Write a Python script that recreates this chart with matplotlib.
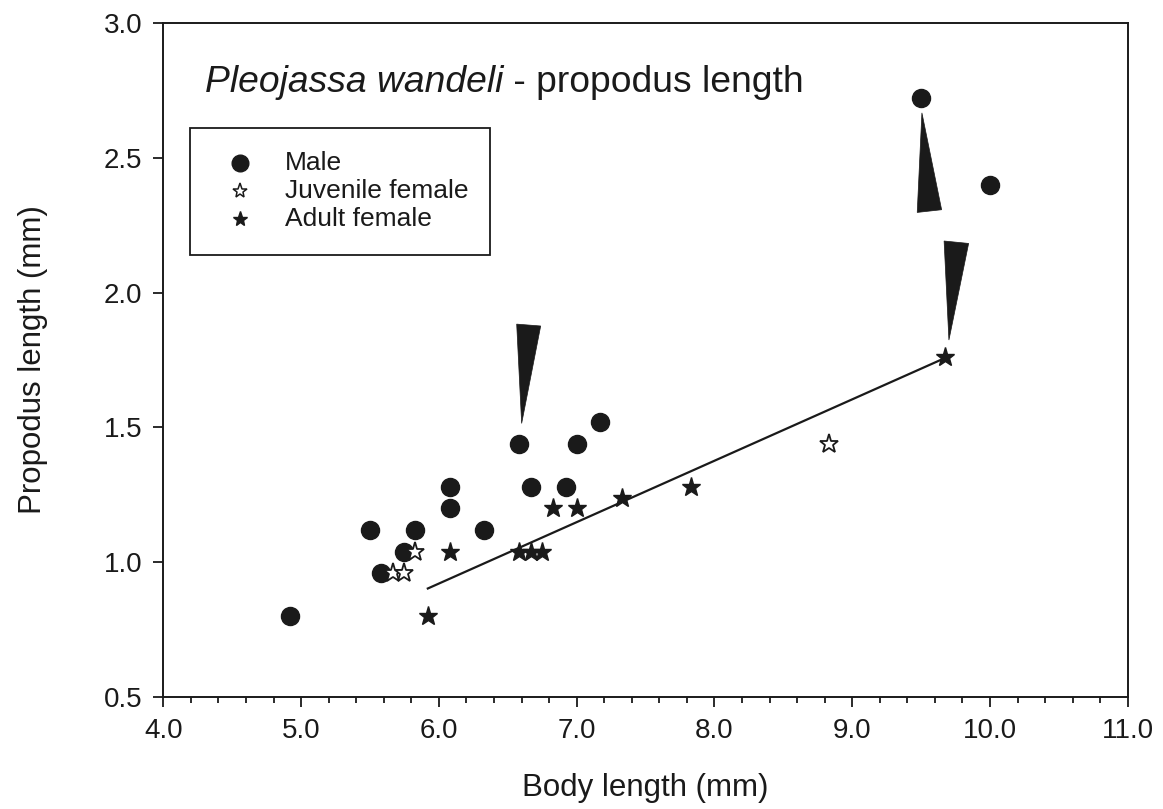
import numpy as np
import matplotlib
matplotlib.use("Agg")
import matplotlib.pyplot as plt
from matplotlib.patches import Polygon, Rectangle
from matplotlib.ticker import MultipleLocator

plt.rcParams["font.family"] = ["Liberation Sans", "DejaVu Sans"]

INK = "#1a1a1a"

# Body length (mm) and propodus length (mm) per group
male_x = [4.92, 5.50, 5.58, 5.75, 5.83, 6.08, 6.08, 6.33, 6.58, 6.67, 6.92, 7.00, 7.17, 9.50, 10.00]
male_y = [0.80, 1.12, 0.96, 1.04, 1.12, 1.28, 1.20, 1.12, 1.44, 1.28, 1.28, 1.44, 1.52, 2.72, 2.40]

juv_x = [5.67, 5.75, 5.83, 8.83]
juv_y = [0.96, 0.96, 1.04, 1.44]

adult_x = [5.92, 6.08, 6.58, 6.67, 6.75, 6.83, 7.00, 7.33, 7.83, 9.67]
adult_y = [0.80, 1.04, 1.04, 1.04, 1.04, 1.20, 1.20, 1.24, 1.28, 1.76]

legend_labels = ["Male", "Juvenile female", "Adult female"]
x_ticks = [4.0, 5.0, 6.0, 7.0, 8.0, 9.0, 10.0, 11.0]
y_ticks = [0.5, 1.0, 1.5, 2.0, 2.5, 3.0]

# Wedge-shaped pointers (data coordinates)
pointers = [
    [(6.565, 1.883), (6.739, 1.876), (6.601, 1.515)],
    [(9.506, 2.666), (9.472, 2.297), (9.649, 2.307)],
    [(9.667, 2.191), (9.845, 2.182), (9.702, 1.824)],
]

fig = plt.figure(figsize=(11.63, 8.09), dpi=100)
ax = fig.add_axes([0.1404, 0.1381, 0.8293, 0.8338])

ax.set_xlim(4.0, 11.0)
ax.set_ylim(0.5, 3.0)

# Regression line for adult females
slope, icpt = np.polyfit(adult_x, adult_y, 1)
fx = np.array([min(adult_x), max(adult_x)])
ax.plot(fx, slope * fx + icpt, color=INK, lw=1.6, zorder=2)

ax.plot(male_x, male_y, "o", ms=13, color=INK, mec=INK, zorder=3)
ax.plot(juv_x, juv_y, "*", ms=14, mfc="white", mec=INK, mew=1.3, zorder=4)
ax.plot(adult_x, adult_y, "*", ms=14, color=INK, mec=INK, zorder=4)

for tri in pointers:
    ax.add_patch(Polygon(tri, closed=True, facecolor=INK, edgecolor=INK, lw=0.5, zorder=3))

# Ticks and spines
ax.set_xticks(x_ticks)
ax.set_xticklabels([f"{v:.1f}" for v in x_ticks])
ax.set_yticks(y_ticks)
ax.set_yticklabels([f"{v:.1f}" for v in y_ticks])
ax.xaxis.set_minor_locator(MultipleLocator(0.2))
ax.tick_params(axis="both", which="major", direction="out", length=7, width=1.3,
               labelsize=20, color=INK, labelcolor=INK, pad=8)
ax.tick_params(axis="x", which="minor", direction="out", length=4.5, width=1.3, color=INK)
ax.tick_params(top=False, right=False, which="both")
for sp in ax.spines.values():
    sp.set_linewidth(1.4)
    sp.set_color(INK)

ax.set_xlabel("Body length (mm)", fontsize=22.5, color=INK, labelpad=21)
ax.set_ylabel("Propodus length (mm)", fontsize=22.5, color=INK, labelpad=40)

# Title inside the plot: italic species name followed by plain text
t1 = ax.text(0.043, 0.886, "Pleojassa wandeli", transform=ax.transAxes,
             fontsize=26.8, style="italic", color=INK, va="bottom", ha="left")
ax.annotate(" - propodus length", xy=(1, 0), xycoords=t1, fontsize=26.8,
            color=INK, va="bottom", ha="left")

# Legend box
lx0, lx1 = 0.028, 0.339
ly0, ly1 = 0.656, 0.8435
ax.add_patch(Rectangle((lx0, ly0), lx1 - lx0, ly1 - ly0, transform=ax.transAxes,
                       facecolor="white", edgecolor=INK, lw=1.3, zorder=5))
rows_y = [1 - (163.3 - 22.7) / 674.6, 1 - (191.0 - 22.7) / 674.6, 1 - (219.3 - 22.7) / 674.6]
mk_x = (240 - 163.3) / 964.4
tx_x = (285 - 163.3) / 964.4
styles = [dict(marker="o", ms=12, color=INK, mec=INK),
          dict(marker="*", ms=11, mfc="white", mec=INK, mew=1.1),
          dict(marker="*", ms=11, color=INK, mec=INK)]
for lab, yy, st in zip(legend_labels, rows_y, styles):
    ax.plot([mk_x], [yy], transform=ax.transAxes, ls="none", zorder=6, clip_on=False, **st)
    ax.text(tx_x, yy, lab, transform=ax.transAxes, fontsize=19, color=INK,
            va="center", ha="left", zorder=6)

fig.savefig("out.png", dpi=100, facecolor="white")
